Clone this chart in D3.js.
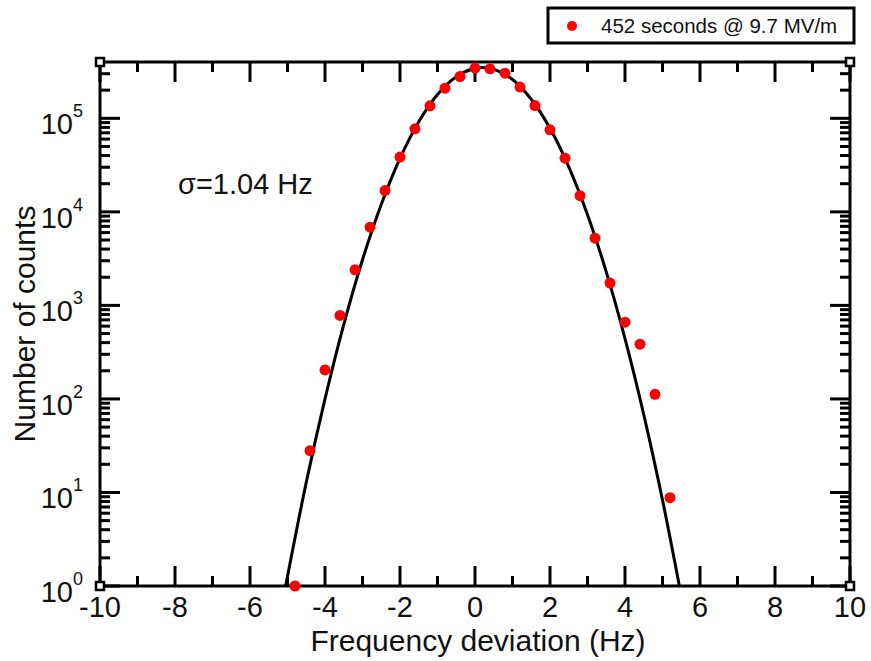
<!DOCTYPE html>
<html>
<head>
<meta charset="utf-8">
<script src="https://cdn.jsdelivr.net/npm/d3@7"></script>
<style>
  body { margin: 0; background: #fff; }
  svg { display: block; font-family: "Liberation Sans", Arial, Helvetica, sans-serif; }
</style>
</head>
<body>
<div id="chart"></div>
<script>
// measured histogram (Hz, counts)
var freqDev = [-4.8, -4.4, -4.0, -3.6, -3.2, -2.8, -2.4, -2.0, -1.6, -1.2, -0.8, -0.4, 0.0,
               0.4, 0.8, 1.2, 1.6, 2.0, 2.4, 2.8, 3.2, 3.6, 4.0, 4.4, 4.8, 5.2];
var counts = [1, 28, 204, 780, 2400, 6860, 16900, 38500, 77300, 136000, 210000, 280000, 344000,
              338000, 304000, 216000, 137000, 75300, 37500, 14900, 5230, 1730, 661, 385, 112, 8.8];

// gaussian fit line
var fitDev = [-5.05, -4.5, -4.0, -3.5, -3.0, -2.5, -2.0, -1.5, -1.0, -0.5, 0.0, 0.2,
              0.5, 1.0, 1.5, 2.0, 2.5, 3.0, 3.5, 4.0, 4.5, 5.0, 5.45];
var fitCounts = [1, 12.8, 100, 624, 3080, 12000, 37300, 92000, 180000, 279000, 343000, 350000,
                 336000, 260000, 160000, 78200, 30300, 9330, 2280, 441, 68, 8.3, 1];

var xMajor = [-10, -8, -6, -4, -2, 0, 2, 4, 6, 8, 10];
var xMinor = [-9, -7, -5, -3, -1, 1, 3, 5, 7, 9];
var yDecades = [0, 1, 2, 3, 4, 5];

var legendLabel = "452 seconds @ 9.7 MV/m";
var sigmaLabel = "\u03c3=1.04 Hz";

var width = 871, height = 661;
var plotL = 100, plotR = 850, plotT = 62, plotB = 586;
var majorLen = 20, minorLen = 10, tickW = 3;

var svg = d3.select("#chart").append("svg")
  .attr("width", width)
  .attr("height", height);

var xScale = d3.scaleLinear().domain([-10, 10]).range([plotL, plotR]);
var yScale = d3.scaleLog().domain([1, 4e5]).range([plotB, plotT]);

var yMinor = [];
yDecades.forEach(function(d) {
  for (var k = 2; k <= 9; k++) {
    var v = k * Math.pow(10, d);
    if (v < 4e5) yMinor.push(v);
  }
});
var yMajor = yDecades.map(function(d) { return Math.pow(10, d); });

// frame
svg.append("rect")
  .attr("x", plotL).attr("y", plotT)
  .attr("width", plotR - plotL).attr("height", plotB - plotT)
  .attr("fill", "none").attr("stroke", "#000").attr("stroke-width", 3);

// inward ticks on all four sides, as thin filled bars
var tickG = svg.append("g").attr("fill", "#000");
function addX(values, len) {
  tickG.selectAll(null).data(values).enter().append("rect")
    .attr("x", function(d) { return xScale(d) - tickW / 2; })
    .attr("y", plotB - len).attr("width", tickW).attr("height", len);
  tickG.selectAll(null).data(values).enter().append("rect")
    .attr("x", function(d) { return xScale(d) - tickW / 2; })
    .attr("y", plotT).attr("width", tickW).attr("height", len);
}
function addY(values, len) {
  tickG.selectAll(null).data(values).enter().append("rect")
    .attr("y", function(d) { return yScale(d) - tickW / 2; })
    .attr("x", plotL).attr("height", tickW).attr("width", len);
  tickG.selectAll(null).data(values).enter().append("rect")
    .attr("y", function(d) { return yScale(d) - tickW / 2; })
    .attr("x", plotR - len).attr("height", tickW).attr("width", len);
}
addX(xMajor, majorLen);
addX(xMinor, minorLen);
addY(yMajor, majorLen);
addY(yMinor, minorLen);

// x tick labels
svg.append("g").selectAll("text").data(xMajor).enter()
  .append("text")
  .attr("x", function(d) { return xScale(d); })
  .attr("y", plotB + 31)
  .attr("text-anchor", "middle")
  .attr("font-size", 29)
  .attr("fill", "#111")
  .text(function(d) { return d; });

// y tick labels 10^n
var yl = svg.append("g").selectAll("text").data(yDecades).enter()
  .append("text")
  .attr("x", 83)
  .attr("y", function(d) { return yScale(Math.pow(10, d)) + 16; })
  .attr("text-anchor", "end")
  .attr("fill", "#111");
yl.append("tspan").attr("font-size", 29).text("10");
yl.append("tspan").attr("font-size", 18).attr("dy", -17).text(function(d) { return d; });

// axis titles
svg.append("text")
  .attr("x", (plotL + plotR) / 2 + 3)
  .attr("y", 651)
  .attr("text-anchor", "middle")
  .attr("font-size", 30)
  .attr("fill", "#111")
  .text("Frequency deviation (Hz)");

svg.append("text")
  .attr("transform", "translate(35," + ((plotT + plotB) / 2) + ") rotate(-90)")
  .attr("text-anchor", "middle")
  .attr("font-size", 30)
  .attr("fill", "#111")
  .text("Number of counts");

svg.append("text")
  .attr("x", 178)
  .attr("y", 194)
  .attr("font-size", 29)
  .attr("fill", "#111")
  .text(sigmaLabel);

// fit line
var fitLine = d3.line()
  .x(function(d, i) { return xScale(fitDev[i]); })
  .y(function(d) { return yScale(d); })
  .curve(d3.curveCatmullRom);

svg.append("path")
  .attr("d", fitLine(fitCounts))
  .attr("fill", "none")
  .attr("stroke", "#000")
  .attr("stroke-width", 3);

// data points
svg.append("g").selectAll("circle").data(counts).enter()
  .append("circle")
  .attr("cx", function(d, i) { return xScale(freqDev[i]); })
  .attr("cy", function(d) { return yScale(d); })
  .attr("r", 5.5)
  .attr("fill", "#f00");

// corner markers
[[plotL, plotT], [plotR, plotT], [plotL, plotB], [plotR, plotB]].forEach(function(c) {
  svg.append("rect")
    .attr("x", c[0] - 4).attr("y", c[1] - 4)
    .attr("width", 8).attr("height", 8)
    .attr("fill", "#fff").attr("stroke", "#000").attr("stroke-width", 2.5);
});

// legend
svg.append("rect")
  .attr("x", 548).attr("y", 8)
  .attr("width", 306).attr("height", 35)
  .attr("fill", "#fff").attr("stroke", "#000").attr("stroke-width", 3);
svg.append("circle")
  .attr("cx", 572).attr("cy", 26).attr("r", 5)
  .attr("fill", "#f00");
svg.append("text")
  .attr("x", 601).attr("y", 33)
  .attr("font-size", 20.5)
  .attr("fill", "#111")
  .text(legendLabel);
</script>
</body>
</html>
